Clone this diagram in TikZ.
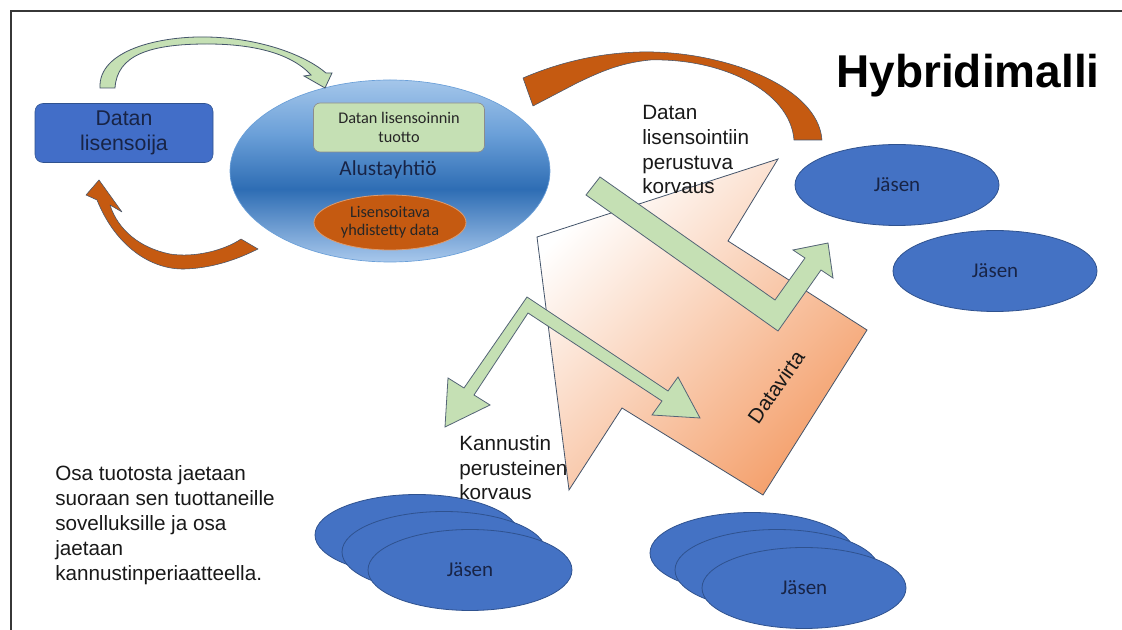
\documentclass[tikz,border=0pt]{standalone}
\usepackage{fontspec}
\setmainfont{Liberation Sans}
\newfontfamily\calfont{Carlito}
\usetikzlibrary{shapes.geometric}

\definecolor{memberblue}{RGB}{68,114,196}
\definecolor{memberedge}{RGB}{47,82,143}
\definecolor{navytext}{RGB}{24,36,70}
\definecolor{palegreen}{RGB}{197,224,180}
\definecolor{greenedge}{RGB}{84,100,118}
\definecolor{rust}{RGB}{197,90,17}
\definecolor{peach}{RGB}{244,160,108}
\definecolor{slateedge}{RGB}{68,84,106}
\definecolor{skyedge}{RGB}{168,200,236}
\definecolor{skydark}{RGB}{46,109,180}
\definecolor{skyupper}{RGB}{106,159,216}
\definecolor{skytop}{RGB}{164,198,234}
\definecolor{framegray}{RGB}{55,55,55}
\definecolor{licensorblue}{RGB}{66,110,200}

% platform ellipse: light rim, dark band a little below the middle
\pgfdeclareverticalshading{alusta}{100bp}{%
  color(0bp)=(skyedge); color(25bp)=(skyedge); color(45bp)=(skydark);
  color(60bp)=(skyupper); color(75bp)=(skytop); color(100bp)=(skytop)}

\begin{document}
\begin{tikzpicture}[x=0.75pt,y=-0.75pt,
  lbl/.style={inner sep=0pt, align=left, anchor=north west, text=black!90,
    font=\fontsize{15.5}{18.6}\selectfont},
  member/.style={ellipse, draw=memberedge, line width=0.6pt, fill=memberblue,
    minimum width=153pt, minimum height=60.75pt, inner sep=0pt,
    text=navytext, font=\calfont\fontsize{15.75}{18}\selectfont},
  blockarrow/.style={fill=palegreen, draw=greenedge, line width=0.6pt, line join=miter},
  rustarrow/.style={fill=rust, draw=slateedge, line width=0.4pt, line join=round},
]
\useasboundingbox (0,0) rectangle (1122,630);
\fill[white] (0,0) rectangle (1122,630);
\draw[framegray, line width=1.5pt] (11,630) -- (11,11) -- (1122,11);

% licensor box
\node[rounded corners=6pt, fill=licensorblue, draw=memberedge, line width=0.4pt,
  minimum width=133.5pt, minimum height=44.25pt, inner sep=0pt, align=center,
  text=navytext, font=\fontsize{16}{18.75}\selectfont] (licensor) at (124,133) {Datan\\lisensoija};

% platform company with its two parts
\node[ellipse, shade, shading=alusta, draw=skyupper, line width=0.5pt,
  minimum width=240pt, minimum height=136.5pt, inner sep=0pt] (platform) at (390,171) {};
\node[rounded corners=5pt, fill=palegreen, draw=black!45, line width=0.5pt,
  minimum width=128.25pt, minimum height=36.75pt, inner sep=0pt, align=center,
  text=black!85, font=\calfont\fontsize{12.2}{14.3}\selectfont] (revenue) at (399,127.5) {Datan lisensoinnin\\tuotto};
\node[inner sep=0pt, text=navytext, font=\calfont\fontsize{16}{18}\selectfont] (platformname) at (388,170) {Alustayhtiö};
\node[ellipse, fill=rust, draw=rust!60!white, line width=0.6pt,
  minimum width=114pt, minimum height=41.25pt, inner sep=0pt, align=center,
  text=black!85, font=\calfont\fontsize{12.2}{13.8}\selectfont] (pooled) at (390,222.5) {Lisensoitava\\yhdistetty data};

% data flow shape
\path[draw=slateedge, line width=0.6pt, top color=white, bottom color=peach, shading angle=45]
  (537,237) -- (778,159) -- (728,241) -- (867,330) -- (763,495) -- (622,408) -- (569,490) -- cycle;
\node[rotate=55, inner sep=0pt, text=black!90, font=\fontsize{15.5}{18}\selectfont] (flow) at (776,387) {Datavirta};

% members
\node[member] (m1) at (897,185) {Jäsen};
\node[member] (m2) at (995,271) {Jäsen};
\node[member] (s1back) at (417,535) {};
\node[member] (s1mid) at (444,552) {};
\node[member] (s1front) at (470,570) {Jäsen};
\node[member] (s2back) at (752,553) {};
\node[member] (s2mid) at (777,570) {};
\node[member] (s2front) at (804,588) {Jäsen};

% licensing-based compensation: bent arrow
\path[blockarrow] (600,177) -- (775,300) -- (805,258) -- (793,250) -- (828,243)
  -- (833,278) -- (821,270) -- (778,331) -- (586,195) -- cycle;

% incentive-based compensation: forked arrow
\path[blockarrow] (445,427) -- (448,378) -- (464,388) -- (527,297) -- (668,391)
  -- (678,377) -- (700,418) -- (652,415) -- (662,401) -- (528,313) -- (474,395)
  -- (490,405) -- cycle;

% curved arrows between licensor and platform
\path[blockarrow, draw=slateedge] (100,88) .. controls (98,50) and (160,36) .. (207,37)
  .. controls (260,38) and (305,55) .. (326,73) -- (332,73) -- (325,88) -- (304,76)
  -- (311,75) .. controls (290,52) and (250,44) .. (207,44)
  .. controls (150,44) and (117,55) .. (115,88) -- cycle;
\path[rustarrow] (99,180) -- (122,212) -- (110,205) .. controls (118,230) and (140,248) .. (170,254)
  .. controls (195,258) and (225,250) .. (241,239) -- (258,249)
  .. controls (240,258) and (215,268) .. (185,269)
  .. controls (150,270) and (115,245) .. (97,200) -- (86,195) -- cycle;

% curved arrow from members back to platform
\path[rustarrow] (822,140) .. controls (818,85) and (720,50) .. (640,52)
  .. controls (600,53) and (560,62) .. (523,78) -- (533,106) -- (577,83)
  .. controls (600,72) and (620,63) .. (650,60)
  .. controls (720,58) and (790,90) .. (794,140) -- cycle;

% texts
\node[anchor=base, inner sep=0pt, font=\bfseries\fontsize{34.5}{40}\selectfont] (title) at (968,88) {Hybridimalli};
\node[lbl] (paylabel) at (642,105) {Datan\\lisensointiin\\perustuva\\korvaus};
\node[lbl] (incentivelabel) at (459,435) {Kannustin\\perusteinen\\korvaus};
\node[lbl, font=\fontsize{15.5}{18.75}\selectfont] (note) at (55,465)
  {Osa tuotosta jaetaan\\suoraan sen tuottaneille\\sovelluksille ja osa\\jaetaan\\kannustinperiaatteella.};
\end{tikzpicture}
\end{document}
